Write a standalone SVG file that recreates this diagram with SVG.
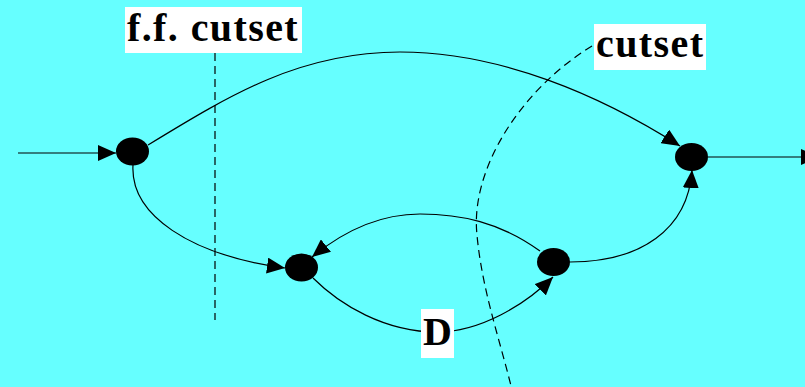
<svg xmlns="http://www.w3.org/2000/svg" width="805" height="387" viewBox="0 0 805 387">
  <style>
    .edge { fill: none; stroke: #000; stroke-width: 1.2; }
    .cut { fill: none; stroke: #000; stroke-width: 1.2; stroke-dasharray: 8 5; }
    .node { fill: #000; }
    .box { fill: #fff; }
    .lbl { font-family: "Liberation Serif", "Times New Roman", serif; font-weight: bold; font-size: 40px; fill: #000; letter-spacing: 1.4px; }
  </style>
  <defs>
    <marker id="arr" markerUnits="userSpaceOnUse" markerWidth="18" markerHeight="16" refX="18" refY="8" orient="auto">
      <path d="M0,0 L18,8 L0,16 z" fill="#000"/>
    </marker>
  </defs>
  <rect x="0" y="0" width="805" height="387" fill="#66ffff"/>

  <g id="connectors">
    <path class="edge" d="M18,153 L116,153" marker-end="url(#arr)"/>
    <path class="edge" d="M708,157 L819,157" marker-end="url(#arr)"/>
    <path class="edge" d="M148,145 C230,95 300,52 400,52 C500,52 600,95 680,146" marker-end="url(#arr)"/>
    <path class="edge" d="M133,165 C130,215 190,255 285,268" marker-end="url(#arr)"/>
    <path class="edge" d="M313,278 C340,305 385,332 437,332 C480,332 525,305 553,277" marker-end="url(#arr)"/>
    <path class="edge" d="M540,251 C500,222 460,214 420,214 C380,214 345,230 312,257" marker-end="url(#arr)"/>
    <path class="edge" d="M570,262 C640,262 688,230 692,170" marker-end="url(#arr)"/>
  </g>

  <g id="cutsets">
    <path class="cut" d="M215,53 L215,320"/>
    <path class="cut" d="M592,46 C520,90 470,170 477,235 C482,290 500,340 512,390"/>
  </g>

  <g id="node-in">
    <ellipse class="node" cx="132.5" cy="151.5" rx="16.5" ry="14"/>
  </g>
  <g id="node-out">
    <ellipse class="node" cx="691.5" cy="157" rx="16.5" ry="14"/>
  </g>
  <g id="node-left">
    <ellipse class="node" cx="301.5" cy="267.5" rx="16.5" ry="14"/>
  </g>
  <g id="node-right">
    <ellipse class="node" cx="553.5" cy="262" rx="16.5" ry="14"/>
  </g>

  <g id="label-ff-cutset">
    <rect class="box" x="125" y="7" width="177" height="46"/>
    <text class="lbl" x="127" y="41">f.f. cutset</text>
  </g>
  <g id="label-cutset">
    <rect class="box" x="594" y="24" width="112" height="46"/>
    <text class="lbl" x="596" y="57">cutset</text>
  </g>
  <g id="label-D">
    <rect class="box" x="421" y="309" width="33" height="49"/>
    <text class="lbl" x="423" y="345">D</text>
  </g>
</svg>
